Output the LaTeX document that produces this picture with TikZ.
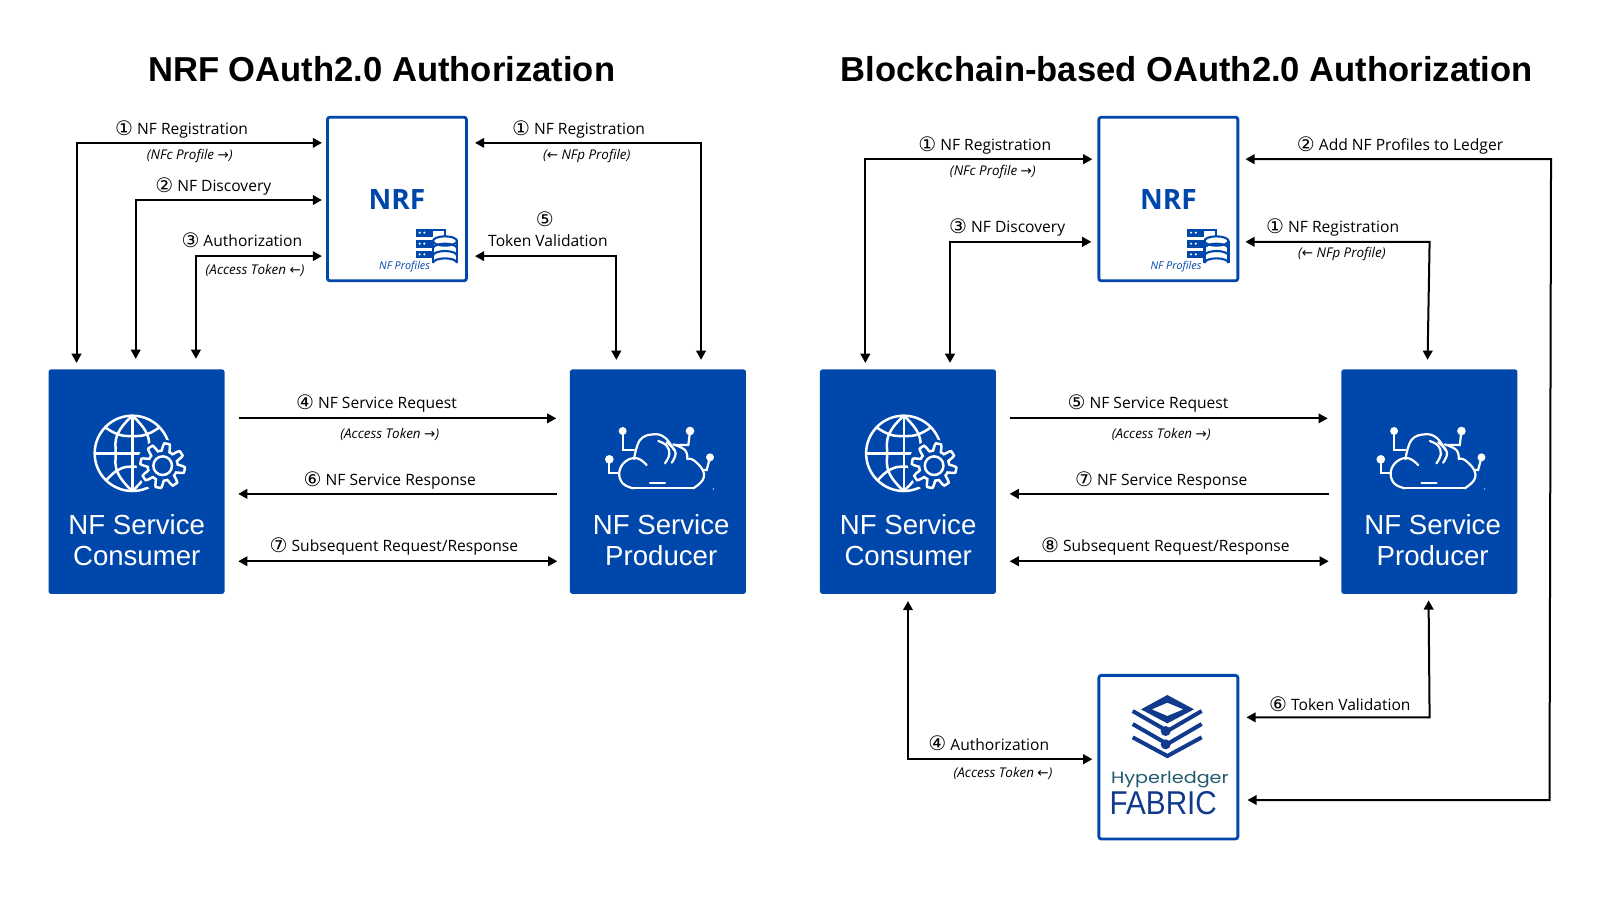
\documentclass[tikz,border=0pt]{standalone}
\usepackage{fontspec}
\setmainfont{Open Sans}
\newfontfamily\dv{DejaVu Sans}
\newfontfamily\lib{Liberation Sans}
\newfontfamily\pop[FakeStretch=1.17]{Poppins}
\newfontfamily\fabfont[FakeStretch=0.9]{Liberation Sans}
\usetikzlibrary{arrows.meta,calc}
\definecolor{nfblue}{HTML}{0047AB}
\definecolor{navy}{HTML}{123A8C}
\definecolor{teal0}{HTML}{1F5A6E}
\newcommand\cn[1]{\raisebox{-0.35pt}{\fontsize{10}{10}\selectfont\dv #1}}
\tikzset{
  arr/.style={line width=1pt,-{Triangle[length=4.6pt,width=4.8pt]},shorten >=0pt},
  biarr/.style={line width=1pt,{Triangle[length=4.6pt,width=4.8pt]}-{Triangle[length=4.6pt,width=4.8pt]}},
  lbl/.style={inner sep=0pt,yshift=-1.35pt,font=\fontsize{7.8}{10}\selectfont,text=black},
  sub/.style={inner sep=0pt,yshift=-0.4pt,font=\fontsize{6.7}{8}\selectfont\itshape,text=black},
  ttl/.style={inner sep=0pt,yshift=-0.3pt,font=\lib\bfseries\fontsize{17.3}{20}\selectfont,text=black},
  nfbox/.style={rectangle,rounded corners=1.2pt,fill=nfblue,minimum width=88pt,minimum height=112.2pt,inner sep=0pt},
  outbox/.style={rectangle,rounded corners=1.2pt,draw=nfblue,line width=1.4pt,fill=white,minimum width=69.5pt,minimum height=81.8pt,inner sep=0pt},
  nftext/.style={inner sep=0pt,align=center,text=white,font=\lib\fontsize{13.8}{15.3}\selectfont},
  nrftext/.style={inner sep=0pt,yshift=-0.4pt,text=nfblue,font=\bfseries\fontsize{14}{16}\selectfont},
  proftext/.style={inner sep=0pt,text=nfblue,font=\fontsize{5.4}{6}\selectfont\itshape},
}
\newcommand\iconglobe[2]{%
\begin{scope}[shift={(#1,#2)},x=0.16667pt,y=-0.16667pt,line width=1.25pt,draw=white]
  \draw (277,295) circle (113);
  \draw (277,182) -- (277,408);
  \draw (164,295) -- (390,295);
  \draw plot[smooth,tension=.8] coordinates {(277,182)(234,235)(227,295)(234,355)(277,408)};
  \draw plot[smooth,tension=.8] coordinates {(277,182)(320,235)(327,295)(320,355)(277,408)};
  \draw plot[smooth,tension=.8] coordinates {(194,216)(234,238)(277,243)(320,238)(360,216)};
  \draw plot[smooth,tension=.8] coordinates {(198,377)(234,345)(277,335)(320,345)(356,377)};
  \fill[nfblue] (368,332) circle (78);
  \draw[shift={(368,332)}] plot[domain=0:360,samples=161] (\x:{56+11*max(-1,min(1,2*sin(8*\x)))}) -- cycle;
  \draw (368,332) circle (28);
\end{scope}}
\newcommand\iconcloud[2]{%
\begin{scope}[shift={(#1,#2)},x=0.16667pt,y=-0.16667pt,line width=1.1pt,draw=white,line cap=round]
  \draw plot[smooth,tension=.7] coordinates {(430,400)(458,375)(458,345)(430,315)(412,312)};
  \draw plot[smooth,tension=.7] coordinates {(412,312)(405,285)(370,268)};
  \draw plot[smooth,tension=.7] coordinates {(372,285)(345,248)(310,238)(270,255)(252,312)};
  \draw plot[smooth,tension=.7] coordinates {(290,330)(262,310)(228,318)(208,350)(218,385)(250,400)};
  \draw (250,400) -- (430,400);
  \draw (300,385) -- (345,385);
  \draw plot[smooth,tension=.7] coordinates {(325,258)(350,272)(358,298)(345,325)};
  \draw plot[smooth,tension=.7] coordinates {(350,262)(374,285)(375,305)(365,323)};
  \draw (218,228) -- (218,285) -- (252,285);
  \draw (420,228) -- (415,270) -- (375,270);
  \draw (178,313) -- (178,355) -- (208,355);
  \draw (480,307) -- (470,345) -- (460,345);
  \fill[white] (218,228) circle (12);
  \fill[white] (420,228) circle (13);
  \fill[white] (178,313) circle (13);
  \fill[white] (480,307) circle (12);
  \fill[white] (490,402) circle (2);
\end{scope}}
\newcommand\icondb[2]{%
\begin{scope}[shift={(#1,#2)},x=0.16667pt,y=-0.16667pt,line width=1.05pt,draw=nfblue,fill=nfblue]
  \foreach \yy in {372,405,437}{
    \fill (318,\yy) rectangle (368,\yy+23);
    \fill[white] (329,\yy+11) circle (3.5);
    \fill[white] (343,\yy+11) circle (3.5);
  }
  \draw (368,376) -- (404,376) -- (404,392);
  \fill[white] (368,408) rectangle (442,484);
  \draw (405,408) ellipse (36 and 14);
  \draw (369,408) -- (369,474);
  \draw (441,408) -- (441,474);
  \draw (369,430) arc[start angle=180,end angle=360,x radius=36,y radius=14];
  \draw (369,452) arc[start angle=180,end angle=360,x radius=36,y radius=14];
  \draw (369,474) arc[start angle=180,end angle=360,x radius=36,y radius=14];
\end{scope}}
\newcommand\iconfabric[2]{%
\begin{scope}[shift={(#1,#2)},x=0.16667pt,y=-0.16667pt,fill=navy,draw=navy]
  \fill[even odd rule] (307,135) -- (387,178) -- (307,220) -- (228,178) -- cycle
     (307,158) -- (355,178) -- (307,198) -- (260,178) -- cycle;
  \draw[line width=2pt] (203,183) -- (307,243) -- (410,183);
  \draw[line width=2pt] (203,222) -- (307,282) -- (410,222);
  \draw[line width=2pt] (203,262) -- (307,318) -- (410,262);
  \fill (302,243) circle (15);
  \fill (302,283) circle (15);
\end{scope}}
\begin{document}
\begin{tikzpicture}[x=0.5102pt,y=-0.5102pt]
\useasboundingbox (0,0) rectangle (1568,882);
\fill[white] (0,0) rectangle (1568,882);
% titles
\node[ttl] (t1) at (374,67) {NRF OAuth2.0 Authorization};
\node[ttl] (t2) at (1163,67) {Blockchain-based OAuth2.0 Authorization};
% boxes left
\node[outbox] (nrfa) at (389,195) {};
\node[nfbox] (cona) at (133.8,472) {};
\node[nfbox] (proa) at (644.8,472) {};
% boxes right
\node[outbox] (nrfb) at (1145,195) {};
\node[nfbox] (conb) at (889.8,472) {};
\node[nfbox] (prob) at (1400.8,472) {};
\node[outbox] (fab) at (1145,742) {};
% box texts
\node[nrftext] (nrfat) at (389,195) {NRF};
\node[nrftext] (nrfbt) at (1145,195) {NRF};
\node[proftext] (pfa) at (396.5,261) {NF Profiles};
\node[proftext] (pfb) at (1152.5,261) {NF Profiles};
\node[nftext] (conat) at (134,529.5) {NF Service\\Consumer};
\node[nftext] (proat) at (648,529.5) {NF Service\\Producer};
\node[nftext] (conbt) at (890,529.5) {NF Service\\Consumer};
\node[nftext] (probt) at (1404,529.5) {NF Service\\Producer};
\node[inner sep=0pt,text=teal0,font=\pop\fontsize{8.2}{10}\selectfont] (hl) at (1146.5,764) {Hyperledger};
\node[inner sep=0pt,text=navy,font=\fabfont\fontsize{16.5}{18}\selectfont] (fb) at (1140,787) {FABRIC};
% icons
\iconglobe{39.2}{347.9}
\iconglobe{795.2}{347.9}
\iconcloud{539}{347.9}
\iconcloud{1295}{347.9}
\icondb{303.8}{102.9}
\icondb{1059.8}{102.9}
\iconfabric{1043.7}{637}
% connectors left
\draw[biarr] (cona.north -| 75,0) ++(0,-6) |- ($(nrfa.west |- 0,140)+(-4,0)$);
\draw[biarr] (cona.north -| 133,0) ++(0,-10) |- ($(nrfa.west |- 0,196)+(-4,0)$);
\draw[biarr] (cona.north -| 192,0) ++(0,-10) |- ($(nrfa.west |- 0,251)+(-4,0)$);
\draw[biarr] (proa.north -| 687,0) ++(0,-9) |- ($(nrfa.east |- 0,140)+(7,0)$);
\draw[biarr] (proa.north -| 604,0) ++(0,-9) |- ($(nrfa.east |- 0,251)+(7,0)$);
\draw[arr] ($(cona.east |- 0,410)+(14,0)$) -- ($(proa.west |- 0,410)+(-13,0)$);
\draw[arr] ($(proa.west |- 0,484)+(-12,0)$) -- ($(cona.east |- 0,484)+(13,0)$);
\draw[biarr] ($(cona.east |- 0,550)+(13,0)$) -- ($(proa.west |- 0,550)+(-12,0)$);
% connectors right
\draw[biarr] (conb.north -| 848,0) ++(0,-6) |- ($(nrfb.west |- 0,156)+(-5,0)$);
\draw[biarr] (conb.north -| 931,0) ++(0,-6) |- ($(nrfb.west |- 0,237)+(-6,0)$);
\draw[biarr] ($(nrfb.east |- 0,156)+(6,0)$) -- (1520,156) -- (1518.5,784) -- ($(fab.east |- 0,784)+(8,0)$);
\draw[biarr] ($(nrfb.east |- 0,237)+(6,0)$) -- (1401,237) -- ($(prob.north -| 1399,0)+(0,-9)$);
\draw[arr] ($(conb.east |- 0,410)+(13,0)$) -- ($(prob.west |- 0,410)+(-13,0)$);
\draw[arr] ($(prob.west |- 0,484)+(-12,0)$) -- ($(conb.east |- 0,484)+(13,0)$);
\draw[biarr] ($(conb.east |- 0,550)+(13,0)$) -- ($(prob.west |- 0,550)+(-12,0)$);
\draw[biarr] ($(conb.south |- 0,589)$) |- ($(fab.west |- 0,744)+(-5,0)$);
\draw[biarr] ($(fab.east |- 0,703)+(7,0)$) -- (1401,703) -- ($(prob.south -| 1400,0)+(0,6)$);
% labels left
\node[lbl] (l1) at (178,124) {\cn{①} NF Registration};
\node[sub] (s1) at (186,152) {(NFc Profile {\dv →})};
\node[lbl] (l2) at (209,180) {\cn{②} NF Discovery};
\node[lbl] (l3) at (237,232.5) {\cn{③} Authorization};
\node[sub] (s3) at (250,264) {(Access Token {\dv ←})};
\node[lbl] (l4) at (567,124) {\cn{①} NF Registration};
\node[sub] (s4) at (575,152) {({\dv ←} NFp Profile)};
\node[lbl] (l5n) at (534,212) {\cn{⑤}};
\node[lbl] (l5) at (537,233) {Token Validation};
\node[lbl] (l6) at (369,393) {\cn{④} NF Service Request};
\node[sub] (s6) at (382,425) {(Access Token {\dv →})};
\node[lbl] (l7) at (382,468) {\cn{⑥} NF Service Response};
\node[lbl] (l8) at (386,533) {\cn{⑦} Subsequent Request/Response};
% labels right
\node[lbl] (r1) at (965,140) {\cn{①} NF Registration};
\node[sub] (q1) at (973,168) {(NFc Profile {\dv →})};
\node[lbl] (r2) at (987,220) {\cn{③} NF Discovery};
\node[lbl] (r3) at (1372,140) {\cn{②} Add NF Profiles to Ledger};
\node[lbl] (r4) at (1306,220) {\cn{①} NF Registration};
\node[sub] (q4) at (1315,248) {({\dv ←} NFp Profile)};
\node[lbl] (r5) at (1125,393) {\cn{⑤} NF Service Request};
\node[sub] (q5) at (1138,425) {(Access Token {\dv →})};
\node[lbl] (r6) at (1138,468) {\cn{⑦} NF Service Response};
\node[lbl] (r7) at (1142,533) {\cn{⑧} Subsequent Request/Response};
\node[lbl] (r8) at (1313,687) {\cn{⑥} Token Validation};
\node[lbl] (r9) at (969,726) {\cn{④} Authorization};
\node[sub] (q9) at (983,757) {(Access Token {\dv ←})};
\end{tikzpicture}
\end{document}
